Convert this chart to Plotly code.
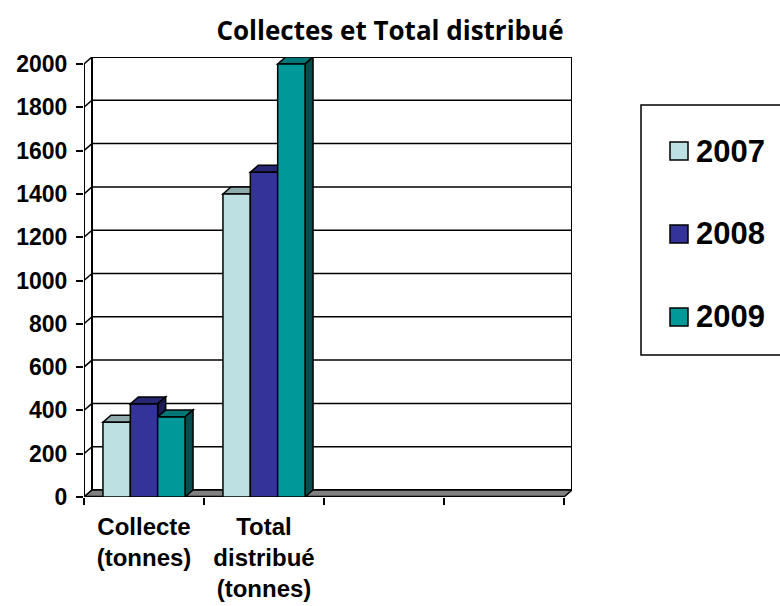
import plotly.graph_objects as go

# ---- data -------------------------------------------------------------
categories = ["Collecte<br>(tonnes)", "Total<br>distribué<br>(tonnes)", "", ""]
years = ["2007", "2008", "2009"]
values_2007 = [345, 1400]
values_2008 = [430, 1500]
values_2009 = [370, 2000]
series_values = [values_2007, values_2008, values_2009]
y_ticks = [0, 200, 400, 600, 800, 1000, 1200, 1400, 1600, 1800, 2000]

# ---- styling ----------------------------------------------------------
front_colors = ["#BDE1E3", "#333399", "#009999"]
top_colors = ["#8FABAD", "#262673", "#007777"]
side_colors = ["#6E8A8C", "#1C1C55", "#004D4D"]

FIG_W, FIG_H = 780, 606
M_L, M_R, M_T, M_B = 84, 208, 57, 109
PLOT_W = FIG_W - M_L - M_R
PLOT_H = FIG_H - M_T - M_B
DEPTH_X_PX, DEPTH_Y_PX = 8, 7
N_CAT = len(categories)
Y_MAX = y_ticks[-1]

# depth offsets of the pseudo-3D walls, in axis units
DX = DEPTH_X_PX * N_CAT / (PLOT_W - DEPTH_X_PX)
DY = DEPTH_Y_PX * Y_MAX / (PLOT_H - DEPTH_Y_PX)
X0, X1 = -0.5, N_CAT - 0.5
BAR_W = 0.228
LINE = "black"
LABEL_FONT = dict(family="Liberation Sans", color="black", weight=700)


def px_to_paper_x(px):
    return (px - M_L) / PLOT_W


def px_to_paper_y(py):
    return (FIG_H - M_B - py) / PLOT_H


def poly(points):
    return "M " + " L ".join(f"{x},{y}" for x, y in points) + " Z"


shapes = []

# back wall with its gridlines
shapes.append(dict(type="rect", xref="x", yref="y", layer="below",
                   x0=X0 + DX, x1=X1 + DX, y0=DY, y1=Y_MAX + DY,
                   line=dict(color=LINE, width=2), fillcolor="white"))
for v in y_ticks:
    shapes.append(dict(type="line", xref="x", yref="y", layer="below",
                       x0=X0 + DX, x1=X1 + DX, y0=v + DY, y1=v + DY,
                       line=dict(color=LINE, width=1.5)))
    # side wall diagonals
    shapes.append(dict(type="line", xref="x", yref="y", layer="below",
                       x0=X0, x1=X0 + DX, y0=v, y1=v + DY,
                       line=dict(color=LINE, width=1.5)))
# left wall front edge
shapes.append(dict(type="line", xref="x", yref="y", layer="below",
                   x0=X0, x1=X0, y0=0, y1=Y_MAX,
                   line=dict(color=LINE, width=2)))
# floor
shapes.append(dict(type="path", xref="x", yref="y", layer="below",
                   path=poly([(X0, 0), (X1, 0), (X1 + DX, DY), (X0 + DX, DY)]),
                   fillcolor="#808080", line=dict(color=LINE, width=1.5)))
shapes.append(dict(type="line", xref="x", yref="y", layer="below",
                   x0=X0, x1=X1, y0=0, y1=0,
                   line=dict(color=LINE, width=2.5)))

# top and side faces of each column
for ci in range(len(values_2007)):
    for si, vals in enumerate(series_values):
        v = vals[ci]
        left = ci + (si - 1.5) * BAR_W
        right = left + BAR_W
        shapes.append(dict(type="path", xref="x", yref="y", layer="below",
                           path=poly([(left, v), (right, v), (right + DX, v + DY), (left + DX, v + DY)]),
                           fillcolor=top_colors[si], line=dict(color=LINE, width=1.5)))
        shapes.append(dict(type="path", xref="x", yref="y", layer="below",
                           path=poly([(right, 0), (right, v), (right + DX, v + DY), (right + DX, DY)]),
                           fillcolor=side_colors[si], line=dict(color=LINE, width=1.5)))

fig = go.Figure()
for si, (name, vals) in enumerate(zip(years, series_values)):
    fig.add_trace(go.Bar(
        x=list(range(len(vals))), y=vals, name=name,
        width=BAR_W, offset=(si - 1.5) * BAR_W,
        marker=dict(color=front_colors[si], line=dict(color=LINE, width=1.5)),
        showlegend=False,
    ))

# legend drawn as a framed box with swatches
annotations = []
legend_rows = [151, 234, 317]
shapes.append(dict(type="rect", xref="paper", yref="paper", layer="above",
                   x0=px_to_paper_x(641), x1=px_to_paper_x(800),
                   y0=px_to_paper_y(355), y1=px_to_paper_y(105),
                   line=dict(color=LINE, width=1.5), fillcolor="rgba(0,0,0,0)"))
for si, (name, row) in enumerate(zip(years, legend_rows)):
    shapes.append(dict(type="rect", xref="paper", yref="paper", layer="above",
                       x0=px_to_paper_x(670), x1=px_to_paper_x(688),
                       y0=px_to_paper_y(row + 9), y1=px_to_paper_y(row - 9),
                       fillcolor=front_colors[si], line=dict(color=LINE, width=1.5)))
    annotations.append(dict(xref="paper", yref="paper", x=px_to_paper_x(694),
                            y=px_to_paper_y(row), xanchor="left", yanchor="middle",
                            text=name, showarrow=False,
                            font=dict(size=31, **LABEL_FONT)))

fig.update_layout(
    width=FIG_W, height=FIG_H,
    margin=dict(l=M_L, r=M_R, t=M_T, b=M_B, autoexpand=False),
    paper_bgcolor="white", plot_bgcolor="white",
    barmode="overlay",
    title=dict(text="Collectes et Total distribué", x=390 / FIG_W, xanchor="center",
               y=1 - 31 / FIG_H, yanchor="middle",
               font=dict(family="Open Sans", size=26, color="black", weight=700)),
    shapes=shapes, annotations=annotations,
    xaxis=dict(range=[X0, X1 + DX], tickvals=list(range(N_CAT)), ticktext=categories,
               ticks="", showgrid=False, zeroline=False, showline=False,
               tickfont=dict(size=24, **LABEL_FONT),
               ticklabelstandoff=13,
               minor=dict(tickvals=[X0 + k for k in range(N_CAT + 1)], ticks="outside",
                          ticklen=7, tickwidth=1.5, tickcolor=LINE, showgrid=False)),
    yaxis=dict(range=[0, Y_MAX + DY], tickvals=y_ticks, ticks="outside", ticklen=7,
               tickwidth=1.5, tickcolor=LINE, showgrid=False, zeroline=False, showline=False,
               tickfont=dict(size=23, **LABEL_FONT),
               ticklabelstandoff=4),
)

fig.write_html("out.html")
